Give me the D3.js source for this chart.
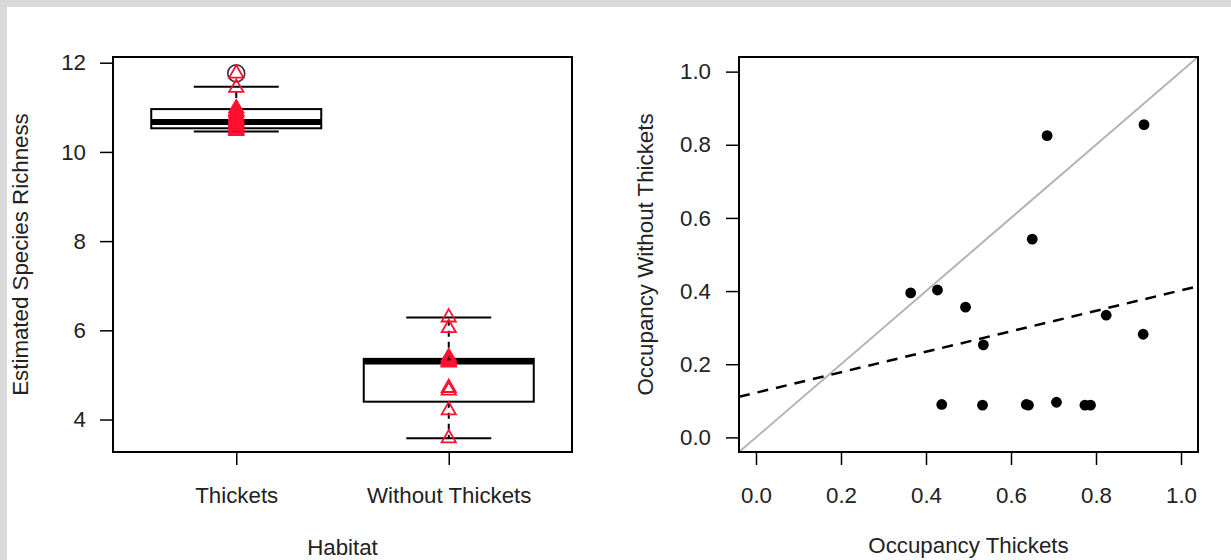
<!DOCTYPE html>
<html>
<head>
<meta charset="utf-8">
<script src="https://cdn.jsdelivr.net/npm/d3@7"></script>
<style>
  body { margin: 0; background: #fff; }
  svg text { font-family: "Liberation Sans", Arial, sans-serif; fill: #222; }
</style>
</head>
<body>
<div id="chart"></div>
<script>
// ---- data ----
var habitats = ["Thickets", "Without Thickets"];
// boxplot stats per habitat: lower whisker, Q1, median, Q3, upper whisker
var whiskerLow = [10.46, 3.58];
var q1 = [10.53, 4.40];
var median = [10.67, 5.30];
var q3 = [10.96, 5.36];
var whiskerHigh = [11.46, 6.29];
var outliers = [[11.76], []];
// estimated richness per site (red triangles)
var richThickets = [11.76, 11.44, 10.98, 10.92, 10.88, 10.82, 10.78, 10.74, 10.70, 10.67, 10.64, 10.60, 10.57, 10.53, 10.50, 10.47];
var richWithout = [6.29, 6.05, 5.40, 5.36, 5.33, 5.30, 5.28, 4.71, 4.65, 4.21, 3.58];
var richTicks = [4, 6, 8, 10, 12];

// occupancy per species
var occThickets = [0.364, 0.427, 0.493, 0.535, 0.437, 0.533, 0.636, 0.641, 0.707, 0.774, 0.787, 0.650, 0.685, 0.913, 0.824, 0.911];
var occWithout  = [0.395, 0.403, 0.356, 0.253, 0.090, 0.088, 0.090, 0.088, 0.096, 0.088, 0.088, 0.542, 0.825, 0.855, 0.334, 0.282];
var occTicks = [0, 0.2, 0.4, 0.6, 0.8, 1.0];
// fitted line (dashed): intercept, slope
var fitLine = [0.122, 0.28];

// ---- layout ----
var width = 1231, height = 560;
var left = { x0: 113, x1: 572, y0: 57, y1: 452 };
var right = { x0: 739, x1: 1198, y0: 57, y1: 452 };

var svg = d3.select("#chart")
    .append("svg")
    .attr("width", width)
    .attr("height", height);

// grey page edge
svg.append("rect").attr("x", 0).attr("y", 0).attr("width", width).attr("height", 7).attr("fill", "#d9d9d9");
svg.append("rect").attr("x", 0).attr("y", 0).attr("width", 7).attr("height", height).attr("fill", "#d9d9d9");

var fontSize = 22.3;

// ================= left panel: boxplot =================
var x1 = d3.scaleLinear().domain([0.42, 2.58]).range([left.x0, left.x1]);
var y1 = d3.scaleLinear().domain([3.272, 12.128]).range([left.y1, left.y0]);

var boxW = 0.4, stapleW = 0.2;
var red = "#ff1030";

var boxes = svg.append("g").selectAll("g")
    .data(habitats)
    .enter().append("g");

// dashed whiskers
boxes.append("line")
    .attr("x1", function (d, i) { return x1(i + 1); })
    .attr("x2", function (d, i) { return x1(i + 1); })
    .attr("y1", function (d, i) { return y1(q3[i]); })
    .attr("y2", function (d, i) { return y1(whiskerHigh[i]); })
    .attr("stroke", "#000").attr("stroke-width", 2).attr("stroke-dasharray", "6,5");
boxes.append("line")
    .attr("x1", function (d, i) { return x1(i + 1); })
    .attr("x2", function (d, i) { return x1(i + 1); })
    .attr("y1", function (d, i) { return y1(q1[i]); })
    .attr("y2", function (d, i) { return y1(whiskerLow[i]); })
    .attr("stroke", "#000").attr("stroke-width", 2).attr("stroke-dasharray", "6,5");

// staples
[whiskerLow, whiskerHigh].forEach(function (arr) {
    boxes.append("line")
        .attr("x1", function (d, i) { return x1(i + 1 - stapleW); })
        .attr("x2", function (d, i) { return x1(i + 1 + stapleW); })
        .attr("y1", function (d, i) { return y1(arr[i]); })
        .attr("y2", function (d, i) { return y1(arr[i]); })
        .attr("stroke", "#000").attr("stroke-width", 2);
});

// box
boxes.append("rect")
    .attr("x", function (d, i) { return x1(i + 1 - boxW); })
    .attr("width", function () { return x1(1 + boxW) - x1(1 - boxW); })
    .attr("y", function (d, i) { return y1(q3[i]); })
    .attr("height", function (d, i) { return y1(q1[i]) - y1(q3[i]); })
    .attr("fill", "#fff").attr("stroke", "#000").attr("stroke-width", 2);

// median
boxes.append("line")
    .attr("x1", function (d, i) { return x1(i + 1 - boxW); })
    .attr("x2", function (d, i) { return x1(i + 1 + boxW); })
    .attr("y1", function (d, i) { return y1(median[i]); })
    .attr("y2", function (d, i) { return y1(median[i]); })
    .attr("stroke", "#000").attr("stroke-width", 6);

// outlier circles
boxes.selectAll("circle")
    .data(function (d, i) { return outliers[i].map(function (v) { return { i: i, v: v }; }); })
    .enter().append("circle")
    .attr("cx", function (d) { return x1(d.i + 1); })
    .attr("cy", function (d) { return y1(d.v); })
    .attr("r", 8.5)
    .attr("fill", "none").attr("stroke", "#333").attr("stroke-width", 1.6);

// red triangles
var tri = d3.symbol().type(d3.symbolTriangle).size(88);
var stripData = [];
richThickets.forEach(function (v) { stripData.push({ g: 1, v: v }); });
richWithout.forEach(function (v) { stripData.push({ g: 2, v: v }); });

svg.append("g").selectAll("path")
    .data(stripData)
    .enter().append("path")
    .attr("d", tri)
    .attr("transform", function (d) { return "translate(" + x1(d.g) + "," + y1(d.v) + ")"; })
    .attr("fill", "none").attr("stroke", red).attr("stroke-width", 1.8);

// frame
svg.append("rect")
    .attr("x", left.x0).attr("y", left.y0)
    .attr("width", left.x1 - left.x0).attr("height", left.y1 - left.y0)
    .attr("fill", "none").attr("stroke", "#000").attr("stroke-width", 2);

// axes
var ax1 = svg.append("g")
    .attr("transform", "translate(" + left.x0 + ",0)")
    .call(d3.axisLeft(y1).tickValues(richTicks).tickSize(13).tickPadding(14).tickFormat(d3.format("d")));
var bx1 = svg.append("g")
    .attr("transform", "translate(0," + left.y1 + ")")
    .call(d3.axisBottom(x1).tickValues([1, 2]).tickSize(13).tickPadding(22)
        .tickFormat(function (d) { return habitats[d - 1]; }));

svg.append("text")
    .attr("x", (left.x0 + left.x1) / 2).attr("y", 555)
    .attr("text-anchor", "middle").attr("font-size", fontSize)
    .text("Habitat");
svg.append("text")
    .attr("transform", "translate(28," + (left.y0 + left.y1) / 2 + ") rotate(-90)")
    .attr("text-anchor", "middle").attr("font-size", fontSize)
    .text("Estimated Species Richness");

// ================= right panel: scatter =================
var x2 = d3.scaleLinear().domain([-0.04, 1.04]).range([right.x0, right.x1]);
var y2 = d3.scaleLinear().domain([-0.04, 1.04]).range([right.y1, right.y0]);

svg.append("clipPath").attr("id", "clipR")
    .append("rect")
    .attr("x", right.x0).attr("y", right.y0)
    .attr("width", right.x1 - right.x0).attr("height", right.y1 - right.y0);

var plot = svg.append("g").attr("clip-path", "url(#clipR)");

// 1:1 line
plot.append("line")
    .attr("x1", x2(-0.04)).attr("y1", y2(-0.04))
    .attr("x2", x2(1.04)).attr("y2", y2(1.04))
    .attr("stroke", "#b4b4b4").attr("stroke-width", 2);

// fitted dashed line
plot.append("line")
    .attr("x1", x2(-0.04)).attr("y1", y2(fitLine[0] + fitLine[1] * -0.04))
    .attr("x2", x2(1.04)).attr("y2", y2(fitLine[0] + fitLine[1] * 1.04))
    .attr("stroke", "#000").attr("stroke-width", 2.5).attr("stroke-dasharray", "11,8");

// points
svg.append("g").selectAll("circle")
    .data(occThickets)
    .enter().append("circle")
    .attr("cx", function (d) { return x2(d); })
    .attr("cy", function (d, i) { return y2(occWithout[i]); })
    .attr("r", 5.4)
    .attr("fill", "#000");

svg.append("rect")
    .attr("x", right.x0).attr("y", right.y0)
    .attr("width", right.x1 - right.x0).attr("height", right.y1 - right.y0)
    .attr("fill", "none").attr("stroke", "#000").attr("stroke-width", 2);

var ax2 = svg.append("g")
    .attr("transform", "translate(" + right.x0 + ",0)")
    .call(d3.axisLeft(y2).tickValues(occTicks).tickSize(13).tickPadding(15).tickFormat(d3.format(".1f")));
var bx2 = svg.append("g")
    .attr("transform", "translate(0," + right.y1 + ")")
    .call(d3.axisBottom(x2).tickValues(occTicks).tickSize(13).tickPadding(22).tickFormat(d3.format(".1f")));

svg.append("text")
    .attr("x", (right.x0 + right.x1) / 2).attr("y", 553)
    .attr("text-anchor", "middle").attr("font-size", fontSize)
    .text("Occupancy Thickets");
svg.append("text")
    .attr("transform", "translate(653," + (right.y0 + right.y1) / 2 + ") rotate(-90)")
    .attr("text-anchor", "middle").attr("font-size", fontSize)
    .text("Occupancy Without Thickets");

// axis styling like base R
[ax1, bx1, ax2, bx2].forEach(function (a) {
    a.select(".domain").remove();
    a.selectAll(".tick line").attr("stroke", "#000").attr("stroke-width", 1.5);
    a.selectAll(".tick text").attr("font-size", fontSize).attr("font-family", "Liberation Sans, Arial, sans-serif").attr("fill", "#222");
});
</script>
</body>
</html>
